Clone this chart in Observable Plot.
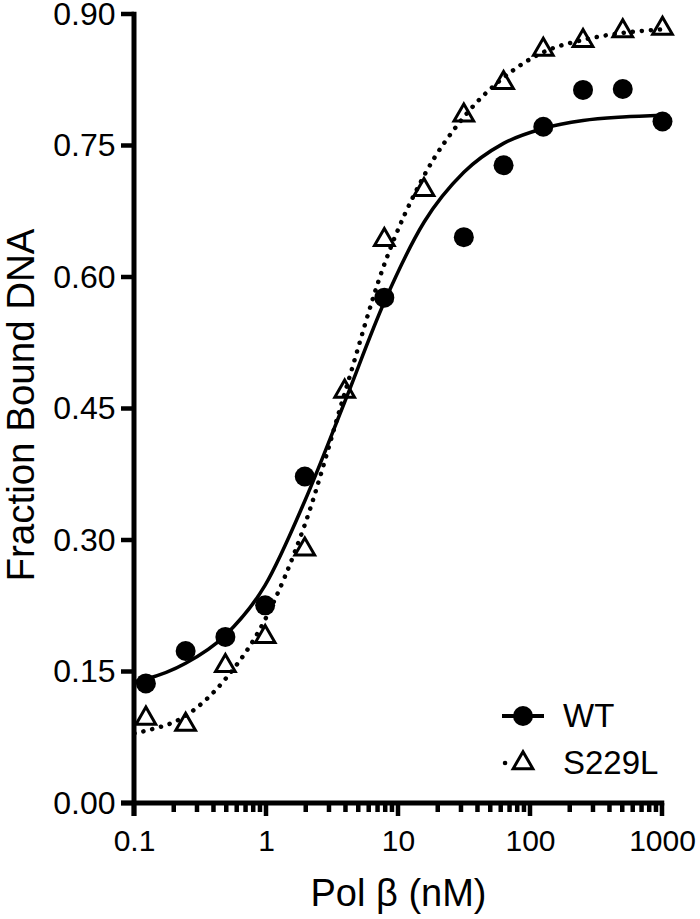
<!DOCTYPE html>
<html>
<head>
<meta charset="utf-8">
<script src="https://cdn.jsdelivr.net/npm/d3@7"></script>
<script src="https://cdn.jsdelivr.net/npm/@observablehq/plot@0.6"></script>
<style>
  body { margin: 0; background: #fff; }
  #wrap { position: relative; width: 700px; height: 919px; font-family: "Liberation Sans", Arial, sans-serif; }
  #legend { position: absolute; left: 500px; top: 700px; font-size: 33px; color: #000; }
  #legend .row { display: flex; align-items: center; height: 32px; line-height: 32px; }
  #legend .row + .row { margin-top: 15px; }
  #legend svg { width: 46px; height: 32px; margin-right: 17px; overflow: visible; }
</style>
</head>
<body>
<div id="wrap"></div>
<script>
// ---- data ----
const concentrations = [0.122, 0.244, 0.488, 0.977, 1.95, 3.91, 7.81, 15.6, 31.25, 62.5, 125, 250, 500, 1000];
const wtValues    = [0.137, 0.174, 0.190, 0.226, 0.373, null, 0.577, null, 0.646, 0.728, 0.772, 0.814, 0.815, 0.778];
const s229lValues = [0.097, 0.090, 0.157, 0.190, 0.290, 0.470, 0.643, 0.700, 0.785, 0.822, 0.860, 0.870, 0.881, 0.884];

// fitted curves
const curveX      = [0.1, 0.122, 0.244, 0.488, 0.977, 1.95, 3.91, 7.81, 15.6, 31.25, 62.5, 125, 250, 500, 1000];
const wtCurve     = [0.139, 0.142, 0.160, 0.192, 0.249, 0.345, 0.458, 0.572, 0.663, 0.720, 0.753, 0.770, 0.779, 0.783, 0.785];
const s229lCurve  = [0.080, 0.083, 0.100, 0.142, 0.210, 0.318, 0.468, 0.615, 0.716, 0.783, 0.828, 0.857, 0.871, 0.879, 0.883];

const seriesNames = ["WT", "S229L"];
const xDomain = [0.1, 1000];
const yDomain = [0, 0.9];
const xMajorTicks = [0.1, 1, 10, 100, 1000];
const xMinorTicks = [0.2, 0.3, 0.4, 0.5, 0.6, 0.7, 0.8, 0.9,
                     2, 3, 4, 5, 6, 7, 8, 9,
                     20, 30, 40, 50, 60, 70, 80, 90,
                     200, 300, 400, 500, 600, 700, 800, 900];
const yTicks = [0, 0.15, 0.30, 0.45, 0.60, 0.75, 0.90];
const xLabel = ["Pol β (nM)"];
const yLabel = ["Fraction Bound DNA"];

// ---- build tables ----
const wtPoints = concentrations.map((c, i) => ({c, v: wtValues[i]})).filter(d => d.v != null);
const s229lPoints = concentrations.map((c, i) => ({c, v: s229lValues[i]}));
const wtLine = curveX.map((c, i) => ({c, v: wtCurve[i]}));
const s229lLine = curveX.map((c, i) => ({c, v: s229lCurve[i]}));

const majorTick = 13, minorTick = 9, axisWidth = 5, tickWidth = 4.5;

// axis lines + tick marks, positioned through Plot's own scales
function axisFrame(index, scales) {
  const g = d3.create("svg:g").attr("stroke", "#000").attr("fill", "none");
  const x0 = scales.x(xDomain[0]), x1 = scales.x(xDomain[1]);
  const y0 = scales.y(yDomain[0]), y1 = scales.y(yDomain[1]);
  for (const t of yTicks) {
    const y = scales.y(t);
    g.append("line").attr("x1", x0 - majorTick).attr("x2", x0).attr("y1", y).attr("y2", y)
      .attr("stroke-width", tickWidth);
  }
  for (const t of xMajorTicks) {
    const x = scales.x(t);
    g.append("line").attr("x1", x).attr("x2", x).attr("y1", y0).attr("y2", y0 + majorTick)
      .attr("stroke-width", tickWidth);
  }
  for (const t of xMinorTicks) {
    const x = scales.x(t);
    g.append("line").attr("x1", x).attr("x2", x).attr("y1", y0).attr("y2", y0 + minorTick)
      .attr("stroke-width", tickWidth);
  }
  g.append("line").attr("x1", x0).attr("x2", x0).attr("y1", y1 - tickWidth / 2).attr("y2", y0 + majorTick)
    .attr("stroke-width", axisWidth);
  g.append("line").attr("x1", x0 - majorTick).attr("x2", x1 + tickWidth / 2).attr("y1", y0).attr("y2", y0)
    .attr("stroke-width", axisWidth);
  return g.node();
}

const chart = Plot.plot({
  width: 700,
  height: 919,
  marginLeft: 134,
  marginRight: 38,
  marginTop: 14,
  marginBottom: 116,
  style: {fontFamily: '"Liberation Sans", Arial, sans-serif', background: "#fff", color: "#000", overflow: "visible"},
  x: {type: "log", domain: xDomain},
  y: {domain: yDomain},
  marks: [
    Plot.line(wtLine, {x: "c", y: "v", curve: "monotone-x", stroke: "#000", strokeWidth: 3.5}),
    Plot.line(s229lLine, {x: "c", y: "v", curve: "monotone-x", stroke: "#000", strokeWidth: 4.5,
      strokeDasharray: "0.1 9", strokeLinecap: "round"}),
    Plot.dot(wtPoints, {x: "c", y: "v", r: 10, fill: "#000", stroke: "none"}),
    Plot.dot(s229lPoints, {x: "c", y: "v", symbol: "triangle", r: 7.3, fill: "none", stroke: "#000", strokeWidth: 3}),
    Plot.axisY(yTicks, {tickSize: 0, tickPadding: 19, fontSize: 32,
      tickFormat: d3.format(".2f"), label: null}),
    Plot.axisX(xMajorTicks, {tickSize: 0, tickPadding: 26, fontSize: 30,
      tickFormat: d => String(d), label: null}),
    axisFrame,
    Plot.text(yLabel, {text: d => d, frameAnchor: "left", rotate: -90, dx: -113, dy: -4,
      fontSize: 38.5, textAnchor: "middle", lineAnchor: "middle", fill: "#000"}),
    Plot.text(xLabel, {text: d => d, frameAnchor: "bottom", dy: 90,
      fontSize: 38, textAnchor: "middle", lineAnchor: "middle", fill: "#000"})
  ]
});

const wrap = document.getElementById("wrap");
wrap.appendChild(chart);

// ---- legend ----
const legend = document.createElement("div");
legend.id = "legend";
const triPath = d3.symbol(d3.symbolTriangle, Math.PI * 7.3 * 7.3)();
const legendGlyphs = {
  "WT": `<line x1="2" x2="44" y1="16" y2="16" stroke="#000" stroke-width="4"/>
         <circle cx="23" cy="16" r="10" fill="#000"/>`,
  "S229L": `<line x1="5" x2="41" y1="16" y2="16" stroke="#000" stroke-width="4.5" stroke-linecap="round" stroke-dasharray="0.1 36"/>
            <path d="${triPath}" transform="translate(23,16)" fill="none" stroke="#000" stroke-width="3"/>`
};
seriesNames.forEach(name => {
  const row = document.createElement("div");
  row.className = "row";
  row.innerHTML = `<svg viewBox="0 0 46 32">${legendGlyphs[name]}</svg><span>${name}</span>`;
  legend.appendChild(row);
});
wrap.appendChild(legend);
</script>
</body>
</html>
